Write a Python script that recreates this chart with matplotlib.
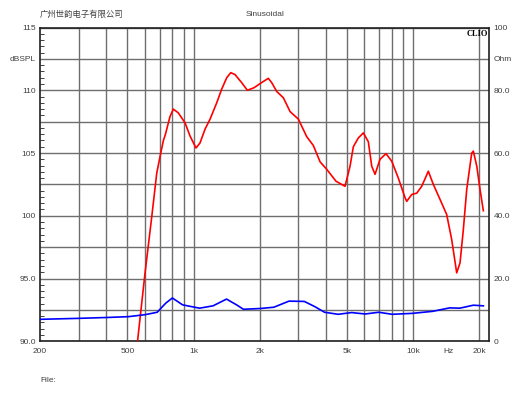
import matplotlib
matplotlib.use('Agg')
import matplotlib.pyplot as plt

freq_spl = [555, 601, 645, 680, 709, 729, 745, 781, 809, 852, 915, 964, 1026, 1070,
            1128, 1189, 1275, 1344, 1416, 1477, 1545, 1657, 1758, 1884, 2078, 2190,
            2270, 2392, 2564, 2751, 3001, 3275, 3510, 3766, 4039, 4452, 4894, 5157,
            5339, 5625, 5928, 6247, 6473, 6702, 7061, 7519, 7984, 8555, 9178, 9344,
            9850, 10376, 10934, 11717, 12347, 13249, 14204, 14970, 15775, 16336,
            16912, 17524, 18467, 18780, 19470, 20148, 20857]
spl = [89.9, 95.4, 99.9, 103.4, 105.0, 106.0, 106.5, 107.9, 108.5, 108.2, 107.4,
       106.35, 105.4, 105.8, 106.9, 107.7, 109.0, 110.1, 111.0, 111.4, 111.25, 110.6,
       110.0, 110.2, 110.7, 110.95, 110.6, 109.9, 109.4, 108.3, 107.7, 106.3, 105.6,
       104.3, 103.7, 102.75, 102.35, 103.95, 105.5, 106.2, 106.6, 105.9, 103.95,
       103.3, 104.5, 104.95, 104.35, 103.0, 101.45, 101.15, 101.7, 101.8, 102.35,
       103.55, 102.5, 101.3, 100.1, 98.1, 95.45, 96.25, 98.9, 102.1, 105.0, 105.15,
       103.95, 102.1, 100.4]

freq_imp = [200, 297, 409, 506, 604, 683, 747, 801, 892, 1065, 1227, 1413, 1571,
            1687, 2014, 2320, 2720, 3194, 3552, 3949, 4552, 5243, 6042, 6960, 8028,
            9918, 12272, 14654, 16300, 18780, 20870]
impedance = [7.0, 7.3, 7.6, 7.85, 8.5, 9.25, 12.15, 13.8, 11.6, 10.55, 11.3, 13.45,
             11.6, 10.2, 10.45, 10.85, 12.8, 12.7, 11.1, 9.25, 8.6, 9.15, 8.7, 9.25,
             8.6, 8.9, 9.55, 10.65, 10.55, 11.5, 11.3]

# Graduations
grid_freqs = [300, 400, 500, 600, 700, 800, 900, 1000, 2000, 3000, 4000, 5000,
              6000, 7000, 8000, 9000, 10000, 20000]
x_tick_pos = [200, 500, 1000, 2000, 5000, 10000, 14500, 20000]
x_tick_labels = ['200', '500', '1k', '2k', '5k', '10k', 'Hz', '20k']
y_tick_pos = [90, 92.5, 95, 97.5, 100, 102.5, 105, 107.5, 110, 112.5, 115]
y_tick_labels = ['90.0', '', '95.0', '', '100', '', '105', '', '110', 'dBSPL', '115']
ohm_tick_pos = [0, 20, 40, 60, 80, 90, 100]
ohm_tick_labels = ['0', '20.0', '40.0', '60.0', '80.0', 'Ohm', '100']

plt.rcParams['font.family'] = ['Liberation Sans', 'Noto Sans CJK SC', 'DejaVu Sans']
txt_color = '#404040'
grid_color = '#6e6e6e'

fig = plt.figure(figsize=(5.3, 3.98), dpi=100)
ax = fig.add_axes([0.0755, 0.1425, 0.8477, 0.7884])
ax.set_xscale('log')
ax.set_xlim(200, 22200)
ax.set_ylim(90, 115)

for f in grid_freqs:
    ax.axvline(f, color=grid_color, lw=1.0, zorder=0.5)
for v in y_tick_pos:
    ax.axhline(v, color=grid_color, lw=1.0, zorder=0.5)

ax.plot(freq_spl, spl, color='#ff0000', lw=1.2, zorder=3)

ax.set_xticks(x_tick_pos)
ax.set_xticklabels(x_tick_labels)
ax.xaxis.set_minor_locator(matplotlib.ticker.NullLocator())
ax.set_yticks(y_tick_pos)
ax.set_yticklabels(y_tick_labels)
ax.set_yticks([90 + 0.5 * i for i in range(51)], minor=True)
ax.tick_params(axis='x', which='major', length=0, pad=5, labelsize=6, colors=txt_color)
ax.tick_params(axis='y', which='major', length=0, pad=3, labelsize=6, colors=txt_color)
ax.tick_params(axis='y', which='minor', direction='in', length=3, width=0.7,
               left=True, right=True, color='#404040')

for s in ax.spines.values():
    s.set_color('#202020')
    s.set_linewidth(1.2)

# Axe de droite pour l'impédance
ax2 = ax.twinx()
ax2.set_ylim(0, 100)
ax2.plot(freq_imp, impedance, color='#0000ff', lw=1.2, zorder=3)
ax2.set_yticks(ohm_tick_pos)
ax2.set_yticklabels(ohm_tick_labels)
ax2.tick_params(axis='y', which='major', length=0, pad=3, labelsize=6, colors=txt_color)
ax2.yaxis.set_minor_locator(matplotlib.ticker.NullLocator())
for s in ax2.spines.values():
    s.set_visible(False)

ax.text(0.997, 0.992, 'CLIO', transform=ax.transAxes, ha='right', va='top',
        fontsize=6, fontweight='bold', family='Liberation Serif', color='black', zorder=5)

fig.text(40 / 530, 1 - 14 / 398, '广州世韵电子有限公司', fontsize=6, color=txt_color,
         va='center', ha='left', family=['Noto Sans CJK SC', 'DejaVu Sans'])
fig.text(265 / 530, 1 - 14 / 398, 'Sinusoidal', fontsize=6, color=txt_color,
         va='center', ha='center')
fig.text(40 / 530, 1 - 381 / 398, 'File:', fontsize=6, color=txt_color,
         va='center', ha='left')

plt.savefig('out.png', dpi=100)
